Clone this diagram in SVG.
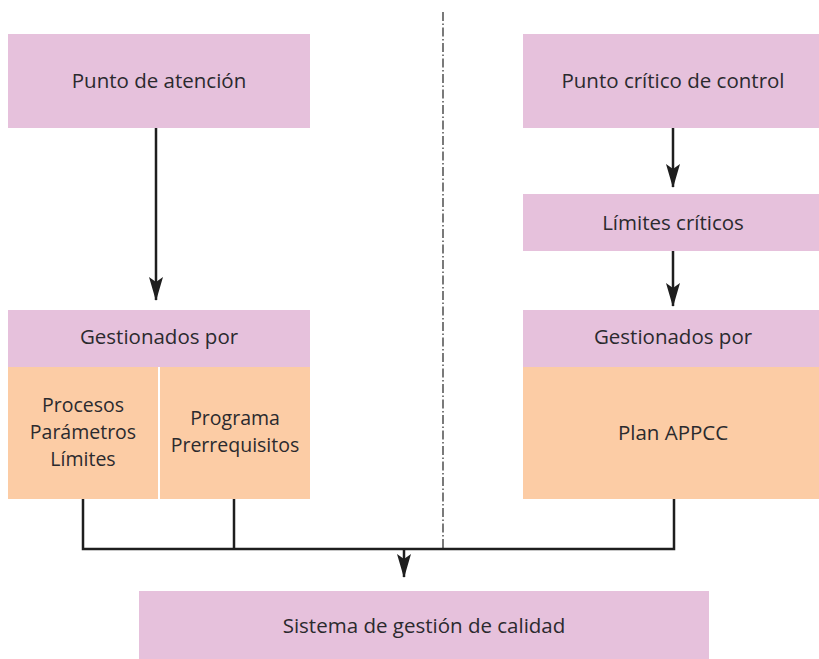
<svg xmlns="http://www.w3.org/2000/svg" width="819" height="659" viewBox="0 0 819 659">
<style>
.pink{fill:#E6C1DC}
.orange{fill:#FCCCA5}
.t{font-family:"Open Sans","Liberation Sans",sans-serif;font-size:20.5px;fill:#2b2a2e;text-anchor:middle;dominant-baseline:central}
.m{font-size:19.5px}
.ln{stroke:#1e1e1e;stroke-width:2.5;fill:none}
.dd{stroke:#222;stroke-width:1.2;fill:none;stroke-dasharray:9 2.5 1.5 2.5}
</style>
<defs>
<marker id="ah" markerUnits="userSpaceOnUse" markerWidth="24" markerHeight="14" refX="23" refY="7" orient="auto" viewBox="0 0 24 14">
<path d="M0,0 L5,7 L0,14 L24,7 Z" fill="#1e1e1e"/>
</marker>
</defs>
<rect width="819" height="659" fill="#fff"/>
<g id="connectors">
<line class="dd" x1="443" y1="12" x2="443" y2="549"/>
<line class="ln" x1="156" y1="128" x2="156" y2="300" marker-end="url(#ah)"/>
<line class="ln" x1="673" y1="128" x2="673" y2="187" marker-end="url(#ah)"/>
<line class="ln" x1="673" y1="251" x2="673" y2="306" marker-end="url(#ah)"/>
<polyline class="ln" points="83,499 83,549 674,549 674,499"/>
<line class="ln" x1="234" y1="499" x2="234" y2="549"/>
<line class="ln" x1="404" y1="549" x2="404" y2="577" marker-end="url(#ah)"/>
</g>
<g id="punto-atencion">
<rect class="pink" x="8" y="34" width="302" height="94"/>
<text class="t" x="159" y="80">Punto de atención</text>
</g>
<g id="punto-critico">
<rect class="pink" x="523" y="34" width="296" height="94"/>
<text class="t" x="673" y="80">Punto crítico de control</text>
</g>
<g id="limites-criticos">
<rect class="pink" x="523" y="194" width="296" height="57"/>
<text class="t" x="673" y="222">Límites críticos</text>
</g>
<g id="gestionados-izq">
<rect class="pink" x="8" y="310" width="302" height="57"/>
<text class="t" x="159" y="336">Gestionados por</text>
</g>
<g id="procesos">
<rect class="orange" x="8" y="367" width="150" height="132"/>
<text class="t m" x="83" y="404">Procesos</text>
<text class="t m" x="83" y="431">Parámetros</text>
<text class="t m" x="83" y="458">Límites</text>
</g>
<g id="programa">
<rect class="orange" x="160" y="367" width="150" height="132"/>
<text class="t m" x="235" y="417">Programa</text>
<text class="t m" x="235" y="444">Prerrequisitos</text>
</g>
<g id="gestionados-der">
<rect class="pink" x="523" y="310" width="296" height="57"/>
<text class="t" x="673" y="336">Gestionados por</text>
</g>
<g id="plan-appcc">
<rect class="orange" x="523" y="367" width="296" height="132"/>
<text class="t" x="673" y="432">Plan APPCC</text>
</g>
<g id="sistema">
<rect class="pink" x="139" y="591" width="570" height="68"/>
<text class="t" x="424" y="625">Sistema de gestión de calidad</text>
</g>
</svg>
